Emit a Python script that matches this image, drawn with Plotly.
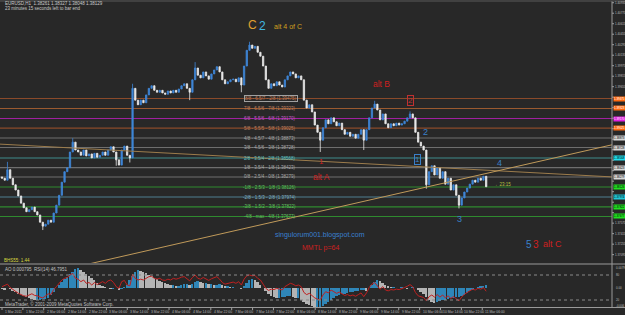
import plotly.graph_objects as go

W, H = 625, 315
PLOT_W = 612          # right price scale starts here
FONT = "Liberation Sans, Arial, sans-serif"
BG = "#282828"

# ---------------- data ----------------
time_labels = ["1 Mar 2011", "1 Mar 22:00", "2 Mar 06:00", "2 Mar 14:00", "2 Mar 22:00",
               "3 Mar 06:00", "3 Mar 14:00", "3 Mar 22:00", "4 Mar 06:00", "4 Mar 14:00",
               "4 Mar 22:00", "7 Mar 06:00", "7 Mar 14:00", "7 Mar 22:00", "8 Mar 06:00",
               "8 Mar 14:00", "8 Mar 22:00", "9 Mar 06:00", "9 Mar 14:00", "9 Mar 22:00",
               "10 Mar 06:00", "10 Mar 14:00", "10 Mar 22:00", "11 Mar 06:00"]

first_open = 1.3828
closes = [1.3826, 1.3823, 1.3839, 1.3826, 1.3816, 1.3808, 1.3799, 1.3788, 1.3781, 1.3775,
          1.3778, 1.3782, 1.3775, 1.3770, 1.3759, 1.3753, 1.3756, 1.3762, 1.3759, 1.3773,
          1.3785, 1.3800, 1.3820, 1.3836, 1.3842, 1.3866, 1.3881, 1.3869, 1.3866, 1.3861,
          1.3869, 1.3860, 1.3863, 1.3857, 1.3864, 1.3858, 1.3861, 1.3866, 1.3861, 1.3869,
          1.3874, 1.3866, 1.3854, 1.3846, 1.3869, 1.3875, 1.3861, 1.3857, 1.3963, 1.3945,
          1.3938, 1.3945, 1.3941, 1.3953, 1.3963, 1.3967, 1.3960, 1.3957, 1.3960, 1.3956,
          1.3954, 1.3959, 1.3956, 1.3960, 1.3957, 1.3962, 1.3967, 1.3970, 1.3963, 1.3957,
          1.3976, 1.3994, 1.3983, 1.3979, 1.3988, 1.3982, 1.3977, 1.3985, 1.3991, 1.3996,
          1.3988, 1.3976, 1.3970, 1.3973, 1.3976, 1.3977, 1.3973, 1.3979, 1.3968, 1.3997,
          1.4021, 1.4029, 1.4024, 1.4027, 1.4018, 1.4012, 1.3997, 1.3976, 1.3963, 1.3970,
          1.3967, 1.3973, 1.3968, 1.3965, 1.3976, 1.3982, 1.3988, 1.3985, 1.3979, 1.3982,
          1.3976, 1.3945, 1.3933, 1.3938, 1.3927, 1.3907, 1.3896, 1.3884, 1.3903, 1.3915,
          1.3909, 1.3918, 1.3912, 1.3906, 1.3910, 1.3900, 1.3893, 1.3896, 1.3890, 1.3893,
          1.3887, 1.3893, 1.3900, 1.3884, 1.3900, 1.3918, 1.3933, 1.3939, 1.3930, 1.3915,
          1.3924, 1.3909, 1.3903, 1.3909, 1.3906, 1.3910, 1.3907, 1.3909, 1.3913, 1.3918,
          1.3924, 1.3918, 1.3896, 1.3881, 1.3875, 1.3869, 1.3816, 1.3836, 1.3845, 1.3831,
          1.3842, 1.3826, 1.3836, 1.3817, 1.3826, 1.3808, 1.3816, 1.3800, 1.3785, 1.3796,
          1.3805, 1.3811, 1.3817, 1.3823, 1.3820, 1.3826, 1.3823, 1.3829, 1.3813]

high_wicks = {2: 1.3851, 26: 1.3887, 48: 1.3970, 71: 1.4003, 91: 1.4034, 137: 1.3944, 150: 1.3928}
low_wicks = {15: 1.3747, 42: 1.3845, 47: 1.3850, 69: 1.3945, 88: 1.3957, 117: 1.3866,
             133: 1.3869, 156: 1.3810, 168: 1.3780}

ao_pips = [-1, -2, 0, -1, -3, -4, -6, -7, -8,
           -9, -10, -11, -12, -12, -12, -11, -11, -10,
           -7, -4,
           0, 3, 6, 9, 11, 14, 16,
           19, 20, 18, 16,
           14, 12, 10, 8, 5, 3,
           2, 1, 0, -1, -1, 0, -2, -1,
           1, 3, 8, 12, 16, 18,
           17, 16, 15, 13, 12, 10, 9, 7, 6, 5,
           4, 3, 3, 2, 2, 3, 4, 4, 3, 4, 6, 7, 6, 5, 5,
           4, 4, 3, 3, 4, 3, 2, 2, 1, 1, 0, 0, -1,
           2, 5, 8, 9, 8, 6, 3,
           0, -3, -6, -8, -9, -10, -10, -9, -9, -8, -8, -9, -10,
           -10, -12, -14, -16, -17, -18, -19, -19, -19, -18, -16, -14,
           -12, -10, -8, -7, -6, -6, -5, -4, -4, -3, -3, -2, -2, -3,
           0, 3, 6, 8, 7, 5, 3,
           2, 1, 1, 0, 0, 1, 0, -1, 0, 1, 0, -2, -4, -6,
           -9, -12, -14, -15, -14, -13, -12, -12, -11, -10, -10, -9, -9, -8, -7,
           -5, -3, -2, 0, 1, 2, 2, 3]

rsi = [52, 55, 58, 50, 45, 40, 36, 33, 30,
       29, 32, 35, 31, 30, 27, 25, 30, 35,
       33, 45,
       52, 60, 68, 72, 74, 80, 84,
       72, 70, 64, 68, 60, 62, 56, 62, 57, 60,
       64, 60, 66, 68, 62, 52, 48, 64, 67, 56, 54,
       82, 72, 68,
       70, 68, 72, 76, 77, 72, 70, 72, 68, 67,
       70, 68, 72, 70, 72, 75, 76, 70, 66, 74, 80, 72, 70, 74, 70,
       67, 71, 74, 76, 70, 62, 58, 60, 62, 63, 60, 64, 56,
       70, 78, 80, 78, 79, 72, 68,
       58, 48, 43, 46, 45, 48, 46, 44, 52, 56, 60, 58, 54, 56, 52,
       38, 33, 36, 30, 25, 22, 20, 32, 40, 37,
       44, 40, 36, 39, 34, 31, 33, 30, 32, 29, 33, 37, 28, 37,
       50, 58, 62, 55, 46, 52, 44,
       42, 45, 44, 46, 45, 47, 50, 53, 57, 52, 38, 30, 28, 26,
       18, 28, 32, 27, 33, 27, 32, 25, 30, 24, 28, 23, 18, 27, 34,
       38, 42, 46, 44, 48, 46, 50, 41]

mm_levels = [1.39475, 1.39323, 1.39170, 1.39025, 1.38873, 1.38728, 1.38568,
             1.38423, 1.38279, 1.38126, 1.37974, 1.37822, 1.37677]
mm_names = ["8/8 - 6.5/7 - 2/8", "7/8 - 6.5/6 - 7/8", "6/8 - 5.5/6 - 6/8", "5/8 - 5.5/5 - 5/8",
            "4/8 - 4.5/7 - 4/8", "3/8 - 4.5/6 - 3/8", "2/8 - 3.5/4 - 2/8", "1/8 - 3.5/4 - 1/8",
            "0/8 - 2.5/4 - 0/8", "-1/8 - 2.5/3 - 1/8", "-2/8 - 1.5/3 - 2/8", "-3/8 - 1.5/2 - 3/8",
            "-4/8 - max - 4/8"]
mm_line_colors = ["#8a4a2a", "#9a5a30", "#a020a0", "#8a4a2a", "#6e6e6e", "#6e6e6e", "#3f8c8c",
                  "#6e6e6e", "#6e6e6e", "#2f8a2f", "#4f7f8f", "#2f8a2f", "#2f8a2f"]
mm_tag_colors = ["#ff6a10", "#ff6a10", "#e020e0", "#ff6a10", "#d8d8d8", "#d8d8d8", "#20e0f0",
                 "#d8d8d8", "#d8d8d8", "#20e020", "#20c8d8", "#20e020", "#20e020"]
mm_text_colors = ["#c08060", "#c08060", "#c060c0", "#c08060", "#a8a8a8", "#a8a8a8", "#60c0c0",
                  "#a8a8a8", "#a8a8a8", "#60c060", "#80b0c0", "#60c060", "#60c060"]

price_ticks = [round(1.40935 - 0.0016 * k, 5) for k in range(25)]

trend_desc_x, trend_desc_y = [-0.74, 224.3], [1.3878, 1.3828]
trend_asc_x, trend_asc_y = [30.5, 224.3], [1.3694, 1.3877]

# ---------------- derived series ----------------
n = len(closes)
bars = list(range(n))
opens = [first_open] + closes[:-1]
highs = [max(o, c) for o, c in zip(opens, closes)]
lows = [min(o, c) for o, c in zip(opens, closes)]
for k, v in high_wicks.items():
    highs[k] = v
for k, v in low_wicks.items():
    lows[k] = v
ao_colors = ["#2f86b8" if (i > 0 and ao_pips[i] >= ao_pips[i - 1]) else "#b4b4b4" for i in range(n)]

X_RANGE = [-0.735, 224.26]
Y_RANGE = [1.36968, 1.40946]

fig = go.Figure()

# trend lines (behind candles)
fig.add_trace(go.Scatter(x=trend_desc_x, y=trend_desc_y, mode="lines",
                         line=dict(color="#9c7c4c", width=1), hoverinfo="skip"))
fig.add_trace(go.Scatter(x=trend_asc_x, y=trend_asc_y, mode="lines",
                         line=dict(color="#c09a5a", width=1), hoverinfo="skip"))

fig.add_trace(go.Candlestick(
    x=bars, open=opens, high=highs, low=lows, close=closes,
    increasing=dict(line=dict(color="#3f86d8", width=0.8), fillcolor="#3f86d8"),
    decreasing=dict(line=dict(color="#e8e8e8", width=0.8), fillcolor="#e8e8e8"),
    whiskerwidth=0, xaxis="x", yaxis="y", hoverinfo="skip"))

fig.add_trace(go.Bar(x=bars, y=ao_pips, marker=dict(color=ao_colors, line=dict(width=0)),
                     width=0.7, xaxis="x2", yaxis="y2", hoverinfo="skip"))
fig.add_trace(go.Scatter(x=bars, y=rsi, mode="lines", line=dict(color="#c02020", width=1),
                         xaxis="x2", yaxis="y3", hoverinfo="skip"))

shapes = []
annotations = []


def pa(text, px, py, size, color, xanchor="left", **kw):
    d = dict(text=text, x=px / PLOT_W, y=1 - py / H, xref="paper", yref="paper",
             xanchor=xanchor, yanchor="middle", showarrow=False,
             font=dict(size=size, color=color, family=FONT))
    d.update(kw)
    return d


# Murrey math lines, labels and price tags
for i, (lvl, nm) in enumerate(zip(mm_levels, mm_names)):
    shapes.append(dict(type="line", xref="paper", yref="y", x0=0, x1=1, y0=lvl, y1=lvl,
                       line=dict(color=mm_line_colors[i], width=1.2), layer="below"))
    a = dict(text=f"{nm} ({lvl:.5f})", x=298 / PLOT_W, y=lvl, xref="paper", yref="y",
             xanchor="right", yanchor="middle", showarrow=False,
             font=dict(size=4.5, color=mm_text_colors[i], family=FONT))
    if i == 0:
        a.update(bordercolor="#a0a0a0", borderwidth=1, borderpad=0)
    annotations.append(a)

# right price scale (tick labels hidden where a level tag covers them)
for p in price_ticks:
    shapes.append(dict(type="line", xref="paper", yref="y", x0=1.0, x1=1.0 + 2 / PLOT_W,
                       y0=p, y1=p, line=dict(color="#a0a0a0", width=1)))
    if min(abs(p - lvl) for lvl in mm_levels) < 0.0009:
        continue
    annotations.append(dict(text=f"{p:.5f}", x=1.0 + 1 / PLOT_W, y=p, xref="paper", yref="y",
                            xanchor="left", yanchor="middle", showarrow=False,
                            font=dict(size=2.9, color="#b8b8b8", family=FONT)))
for i, lvl in enumerate(mm_levels):
    dark = mm_tag_colors[i] in ("#ff6a10", "#e020e0")
    annotations.append(dict(text=f"{lvl:.5f}", x=1.0 + 0.5 / PLOT_W, y=lvl, xref="paper", yref="y",
                            xanchor="left", yanchor="middle", showarrow=False,
                            bgcolor=mm_tag_colors[i], borderpad=0,
                            font=dict(size=2.9, color="#ffffff" if dark else "#000000", family=FONT)))

# pane frames
shapes += [
    dict(type="line", xref="paper", yref="paper", x0=0, x1=W / PLOT_W, y0=1 - 264 / H, y1=1 - 264 / H,
         line=dict(color="#9a9a9a", width=1)),
    dict(type="line", xref="paper", yref="paper", x0=0, x1=W / PLOT_W, y0=1 - 307.5 / H, y1=1 - 307.5 / H,
         line=dict(color="#9a9a9a", width=1)),
    dict(type="line", xref="paper", yref="paper", x0=1, x1=1, y0=1 - 307.5 / H, y1=1 - 1 / H,
         line=dict(color="#9a9a9a", width=1)),
    dict(type="line", xref="paper", yref="paper", x0=0, x1=W / PLOT_W, y0=1 - 1 / H, y1=1 - 1 / H,
         line=dict(color="#5a5a5a", width=1)),
    dict(type="line", xref="paper", yref="y3", x0=0, x1=1, y0=80, y1=80,
         line=dict(color="#8a8a8a", width=1, dash="dot")),
    dict(type="line", xref="paper", yref="y3", x0=0, x1=1, y0=20, y1=20,
         line=dict(color="#8a8a8a", width=1, dash="dot")),
]

# time axis labels (MT4 style: label starts at its tick)
label_step = 8 * 2.61 / 2.72
for k, t in enumerate(time_labels):
    xb = k * label_step
    shapes.append(dict(type="line", xref="x", yref="paper", x0=xb, x1=xb,
                       y0=1 - 307.5 / H, y1=1 - 310 / H, line=dict(color="#a0a0a0", width=1)))
    annotations.append(dict(text=t, x=xb, y=1 - 311.5 / H, xref="x", yref="paper",
                            xanchor="left", yanchor="middle", showarrow=False, xshift=1,
                            font=dict(size=3.4, color="#b8b8b8", family=FONT)))

# oscillator scale labels
for txt, py in [("0.0079", 268), ("80", 275), ("0.00", 288), ("20", 300), ("-0.006", 306)]:
    annotations.append(pa(txt, 613.5, py, 2.9, "#b8b8b8"))

# chart texts
annotations += [
    pa("EURUSD,H1  1.38261 1.38327 1.38048 1.38129", 3, 4, 4.5, "#c8c8c8"),
    pa("23 minutes 15 seconds left to bar end", 3, 8.5, 4.5, "#c8c8c8"),
    pa("C", 252, 25, 12, "#e0a030", xanchor="center"),
    pa("2", 262, 26, 12, "#40b8e0", xanchor="center"),
    pa("alt 4 of C", 272, 26, 7, "#d0a020"),
    pa("alt B", 381, 84, 8.5, "#d02020", xanchor="center"),
    pa("1", 321, 162, 8, "#d02020", xanchor="center"),
    pa("alt A", 321, 177, 8.5, "#d02020", xanchor="center"),
    pa("2", 411, 100, 8, "#c03030", xanchor="center", bordercolor="#c03030", borderwidth=1, borderpad=0),
    pa("2", 425, 132, 9, "#3a80c8", xanchor="center"),
    pa("1", 417, 159, 8, "#3a80c8", xanchor="center", bordercolor="#3a80c8", borderwidth=1, borderpad=0),
    pa("4", 499, 163, 9, "#3a80c8", xanchor="center"),
    pa("3", 459, 219, 9, "#3a80c8", xanchor="center"),
    pa("←23:15", 493, 184, 4.5, "#b8c040"),
    pa("singulorum001.blogspot.com", 320, 235, 7, "#3a80d0", xanchor="center"),
    pa("MMTL p=64", 320, 248, 7, "#d02020", xanchor="center"),
    pa("5", 529, 244, 10, "#3a80c8", xanchor="center"),
    pa("3", 536, 244, 10, "#d02020", xanchor="center"),
    pa("alt C", 552, 244, 9, "#d02020", xanchor="center"),
    pa("BHS55: 1.44", 2, 260, 4.5, "#d8d840"),
    pa("AO 0.000795  RSI(14) 46.7951", 3, 269, 4.5, "#c0c0c0"),
    pa("MetaTrader, © 2001-2009 MetaQuotes Software Corp.", 3, 304, 4.5, "#c0c0c0"),
]

fig.update_layout(
    width=W, height=H, margin=dict(l=0, r=W - PLOT_W, t=0, b=0),
    paper_bgcolor=BG, plot_bgcolor=BG, showlegend=False, bargap=0,
    xaxis=dict(domain=[0, 1], range=X_RANGE, visible=False, rangeslider=dict(visible=False),
               anchor="y"),
    yaxis=dict(domain=[1 - 263 / H, 1 - 2 / H], range=Y_RANGE, visible=False, anchor="x"),
    xaxis2=dict(domain=[0, 1], range=X_RANGE, visible=False, anchor="y2", matches="x"),
    yaxis2=dict(domain=[1 - 307 / H, 1 - 266 / H], range=[-19, 22], visible=False, anchor="x2"),
    yaxis3=dict(range=[3.2, 101.6], visible=False, overlaying="y2", anchor="x2"),
    shapes=shapes, annotations=annotations,
)

fig.write_html("out.html")
